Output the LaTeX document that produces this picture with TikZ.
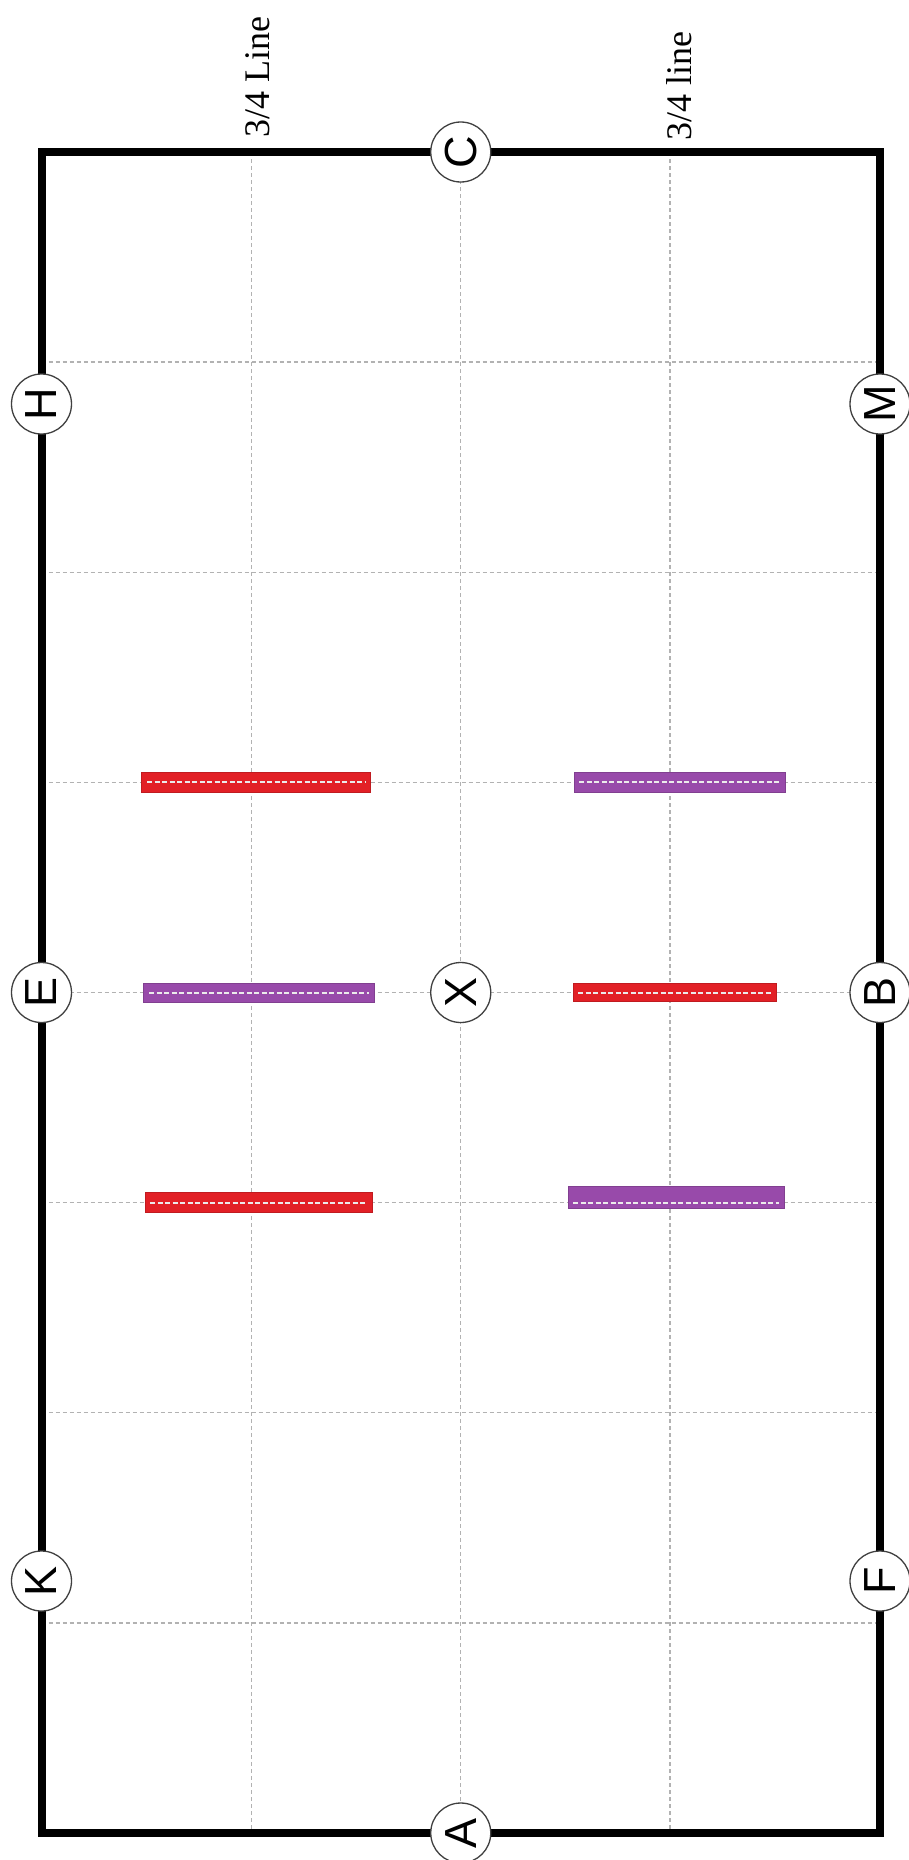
\documentclass[tikz,border=0pt]{standalone}
\usepackage{fontspec}
\setmainfont{Liberation Serif}
\newfontfamily\letterfont{Liberation Sans}
\definecolor{polered}{RGB}{226,32,38}
\definecolor{polepurple}{RGB}{152,74,170}
\begin{document}
\begin{tikzpicture}[x=1pt,y=-1pt,
  gridline/.style={draw=black!30, line width=1.4pt, dash pattern=on 4pt off 3pt},
  arenaborder/.style={draw=black, line width=8pt, line join=miter},
  marker/.style={circle, draw=black!75, line width=1.3pt, fill=white, minimum size=60pt, inner sep=0pt,
    font=\letterfont\fontsize{45}{45}\selectfont, rotate=90},
  linelabel/.style={rotate=90, anchor=west, inner sep=0pt, font=\fontsize{36}{36}\selectfont},
  redpole/.style={fill=polered, draw=polered!85!black, line width=0.6pt},
  purplepole/.style={fill=polepurple, draw=polepurple!85!black, line width=0.6pt},
  polemark/.style={draw=white!92!black, line width=2pt, dash pattern=on 5pt off 2.5pt}
]
\useasboundingbox (0,0) rectangle (909,1860);
% corners
\coordinate (TL) at (41.5,152);
\coordinate (TR) at (880,152);
\coordinate (BR) at (880,1833);
\coordinate (BL) at (41.5,1833);
% vertical grid lines
\foreach \x [count=\i] in {251.6,460.75,670} {
  \coordinate (vt\i) at (\x,152);
  \coordinate (vb\i) at (\x,1833);
  \draw[gridline] (vt\i) -- (vb\i);
}
% horizontal grid lines
\foreach \k in {1,...,7} {
  \coordinate (hl\k) at (41.5,{152+210.125*\k});
  \coordinate (hr\k) at (880,{152+210.125*\k});
  \draw[gridline] (hl\k) -- (hr\k);
}
% arena border
\draw[arenaborder] (TL) -- (TR) -- (BR) -- (BL) -- cycle;
% labels
\node[linelabel] (lab1) at (258,138) {3/4 Line};
\node[linelabel] (lab2) at (679,141) {3/4 line};
% poles
\draw[redpole] (141.7,772.4) rectangle (370.7,792.4);
\draw[polemark] (147,782.4) -- (366,782.4);
\draw[purplepole] (143.6,983) rectangle (373.8,1002);
\draw[polemark] (149,992.5) -- (369,992.5);
\draw[redpole] (144.8,1192.6) rectangle (372.6,1212.6);
\draw[polemark] (150,1202.6) -- (367,1202.6);
\draw[purplepole] (574,772.4) rectangle (785,792.4);
\draw[polemark] (579,782.4) -- (780,782.4);
\draw[redpole] (573,983.5) rectangle (776,1001.5);
\draw[polemark] (578,992.5) -- (771,992.5);
\draw[purplepole] (568,1186) rectangle (784,1208);
\draw[polemark] (573,1202.6) -- (779,1202.6);
% letters
\node[marker] (C) at (460.75,152) {C};
\node[marker] (A) at (460.75,1833) {A};
\node[marker] (H) at (41.5,404) {H};
\node[marker] (M) at (880,404) {M};
\node[marker] (E) at (41.5,992.5) {E};
\node[marker] (X) at (460.75,992.5) {X};
\node[marker] (B) at (880,992.5) {B};
\node[marker] (K) at (41.5,1581) {K};
\node[marker] (F) at (880,1581) {F};
\end{tikzpicture}
\end{document}
